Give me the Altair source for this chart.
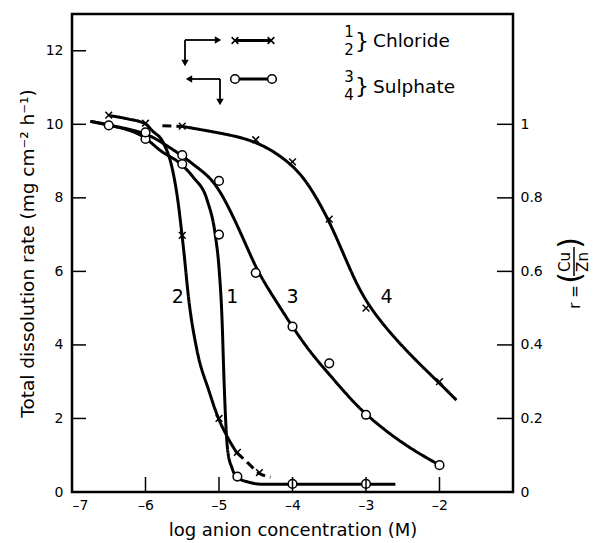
import altair as alt
import pandas as pd

FONT = "DejaVu Sans"

# ---------- curve paths (vertices) ----------
# curve 1 : chloride, dissolution rate (circles)
c1_x = [-6.75, -6.5, -6.0, -5.8, -5.52, -5.35, -5.16, -5.05, -5.0, -4.96, -4.93, -4.90, -4.88, -4.82, -4.77, -4.6, -4.4, -4.0, -3.0, -2.6]
c1_y = [10.08, 9.98, 9.62, 9.29, 8.92, 8.56, 7.93, 6.98, 6.1, 4.76, 2.95, 1.59, 1.1, 0.64, 0.42, 0.27, 0.21, 0.21, 0.21, 0.21]
# curve 2 : chloride, r (crosses) — solid part and dashed tail
c2_x = [-6.5, -6.25, -6.0, -5.91, -5.75, -5.64, -5.56, -5.5, -5.48, -5.41, -5.30, -5.14, -5.0, -4.91, -4.76]
c2_y = [10.24, 10.15, 10.01, 9.83, 9.47, 8.83, 7.93, 6.93, 6.57, 5.21, 3.86, 2.77, 1.97, 1.59, 1.07]
c2t_x = [-4.76, -4.6, -4.46, -4.3]
c2t_y = [1.07, 0.78, 0.52, 0.40]
# curve 3 : sulphate, dissolution rate (circles)
c3_x = [-6.75, -6.5, -6.0, -5.75, -5.5, -5.3, -5.05, -4.8, -4.62, -4.46, -4.23, -4.0, -3.76, -3.5, -3.25, -3.0, -2.5, -2.0]
c3_y = [10.08, 9.98, 9.78, 9.47, 9.15, 8.83, 8.45, 7.47, 6.66, 5.94, 5.21, 4.49, 3.8, 3.2, 2.62, 2.09, 1.3, 0.73]
# curve 4 : sulphate, r (crosses) — dashed head and solid part
c4h_x = [-5.77, -5.49]
c4h_y = [9.96, 9.94]
c4_x = [-5.49, -5.03, -4.48, -4.02, -3.78, -3.5, -3.25, -3.0, -2.49, -2.02, -1.77]
c4_y = [9.94, 9.78, 9.56, 8.95, 8.38, 7.39, 6.2, 5.1, 3.9, 3.0, 2.5]

# ---------- measured points ----------
circ_x = [-6.5, -6.0, -5.5, -5.0, -4.75, -4.0, -3.0,
          -6.0, -5.5, -5.0, -4.5, -4.0, -3.5, -3.0, -2.0]
circ_y = [9.97, 9.6, 8.92, 7.0, 0.42, 0.22, 0.22,
          9.78, 9.16, 8.46, 5.96, 4.5, 3.5, 2.1, 0.73]
cross_x = [-6.5, -6.0, -5.5, -5.0, -4.75, -4.45,
           -5.5, -4.5, -4.0, -3.5, -3.0, -2.0]
cross_y = [10.25, 10.03, 6.98, 2.0, 1.08, 0.53,
           9.95, 9.58, 8.98, 7.42, 5.0, 3.0]

# ---------- curve number labels ----------
lab_text = ["1", "2", "3", "4"]
lab_x = [-4.82, -5.56, -4.0, -2.72]
lab_y = [5.3, 5.3, 5.3, 5.3]

# ---------- axis ticks ----------
left_ticks = [2, 4, 6, 8, 10, 12]
bottom_ticks = [-6, -5, -4, -3, -2]
right_ticks = [0.2, 0.4, 0.6, 0.8, 1.0]
x_labels = [-7, -6, -5, -4, -3, -2]
y_labels = [0, 2, 4, 6, 8, 10, 12]
r_labels = [0, 0.2, 0.4, 0.6, 0.8, 1.0]

W, H = 441, 478


def seg_df(segs):
    rows = []
    for sid, dash, xs, ys in segs:
        for i, (a, b) in enumerate(zip(xs, ys)):
            rows.append({"seg": sid, "dash": dash, "i": i, "x": a, "y": b})
    return pd.DataFrame(rows)


steep_df = seg_df([("c1", "solid", c1_x, c1_y), ("c2", "solid", c2_x, c2_y),
                   ("c2t", "dashed", c2t_x, c2t_y)])
smooth_df = seg_df([("c3", "solid", c3_x, c3_y), ("c4h", "dashed", c4h_x, c4h_y),
                    ("c4", "solid", c4_x, c4_y)])

xscale = alt.Scale(domain=[-7, -1], nice=False, zero=False)
yscale = alt.Scale(domain=[0, 13], nice=False, zero=False)

x_axis = alt.Axis(values=x_labels, ticks=False, domain=False, grid=False,
                  labelFontSize=14, labelPadding=6, labelFont=FONT,
                  labelExpr="datum.value < 0 ? '–' + (-datum.value) : datum.label",
                  title="log anion concentration (M)", titleFontSize=18,
                  titleFont=FONT, titleFontWeight="normal", titlePadding=9,
                  titleColor="black", labelColor="black")
y_axis = alt.Axis(values=y_labels, ticks=False, domain=False, grid=False,
                  labelFontSize=14, labelPadding=9, labelFont=FONT,
                  title="Total dissolution rate (mg cm⁻² h⁻¹)", titleFontSize=18.5,
                  titleFont=FONT, titleFontWeight="normal", titlePadding=8,
                  titleColor="black", labelColor="black")

X = alt.X("x:Q", scale=xscale, axis=x_axis)
Y = alt.Y("y:Q", scale=yscale, axis=y_axis)
dash_enc = alt.StrokeDash("dash:N", scale=alt.Scale(domain=["solid", "dashed"], range=[[1, 0], [9, 5]]), legend=None)

lines_a = alt.Chart(steep_df).mark_line(interpolate="monotone", color="black", strokeWidth=3).encode(
    x=X, y=Y, detail="seg:N", order="i:Q", strokeDash=dash_enc)
lines_b = alt.Chart(smooth_df).mark_line(interpolate="basis", color="black", strokeWidth=3).encode(
    x=X, y=Y, detail="seg:N", order="i:Q", strokeDash=dash_enc)

circles = alt.Chart(pd.DataFrame({"x": circ_x, "y": circ_y})).mark_point(
    shape="circle", filled=True, fill="white", stroke="black", strokeWidth=1.5, size=75, opacity=1
).encode(x=X, y=Y)

XSHAPE = "M-1,-1L1,1M1,-1L-1,1"
crosses = alt.Chart(pd.DataFrame({"x": cross_x, "y": cross_y})).mark_point(
    shape=XSHAPE, filled=False, stroke="black", strokeWidth=1.5, size=45, opacity=1
).encode(x=X, y=Y)

labels = alt.Chart(pd.DataFrame({"t": lab_text, "x": lab_x, "y": lab_y})).mark_text(
    fontSize=19, font=FONT, color="black", align="center", baseline="middle"
).encode(x=X, y=Y, text="t:N")

lticks = alt.Chart(pd.DataFrame({"y": left_ticks})).mark_rule(color="black", strokeWidth=1.5).encode(
    y=Y, x=alt.value(0), x2=alt.value(14))
bticks = alt.Chart(pd.DataFrame({"x": bottom_ticks})).mark_rule(color="black", strokeWidth=1.5).encode(
    x=X, y=alt.value(H), y2=alt.value(H - 15))

dummy = pd.DataFrame({"k": [0]})


def hrule(x1, x2, y, sw=1.8):
    return alt.Chart(dummy).mark_rule(color="black", strokeWidth=sw).encode(
        x=alt.value(x1), x2=alt.value(x2), y=alt.value(y))


def vrule(x, y1, y2, sw=1.8):
    return alt.Chart(dummy).mark_rule(color="black", strokeWidth=sw).encode(
        x=alt.value(x), y=alt.value(y1), y2=alt.value(y2))


def tri(shape, x, y):
    return alt.Chart(dummy).mark_point(shape=shape, filled=True, color="black", size=55, opacity=1).encode(
        x=alt.value(x), y=alt.value(y))


def txt(t, x, y, size=15, align="center", angle=0):
    return alt.Chart(dummy).mark_text(text=t, fontSize=size, font=FONT, color="black",
                                      align=align, baseline="middle", angle=angle).encode(
        x=alt.value(x), y=alt.value(y))


def sym(shape, x, y):
    if shape == "circle":
        return alt.Chart(dummy).mark_point(shape="circle", filled=True, fill="white", stroke="black",
                                           strokeWidth=1.5, size=75, opacity=1).encode(x=alt.value(x), y=alt.value(y))
    return alt.Chart(dummy).mark_point(shape=XSHAPE, filled=False, stroke="black",
                                       strokeWidth=1.5, size=45, opacity=1).encode(x=alt.value(x), y=alt.value(y))


legend = [
    # arrow 1 (right and down)
    hrule(113, 144, 26), tri("triangle-right", 146, 26),
    vrule(113, 26, 47), tri("triangle-down", 113, 49),
    hrule(163, 199, 26.5, 3), sym("cross", 163, 26.5), sym("cross", 199, 26.5),
    # arrow 2 (left and down)
    hrule(119, 148, 65), tri("triangle-left", 117, 65),
    vrule(148, 65, 86), tri("triangle-down", 148, 88),
    hrule(163, 200, 65, 3), sym("circle", 163, 65), sym("circle", 200, 65),
    # text
    txt("1", 277, 18, 15), txt("2", 277, 36, 15), txt("}", 290, 27, 22),
    txt("Chloride", 301, 27, 18.5, "left"),
    txt("3", 277, 62.5, 15), txt("4", 277, 80.5, 15), txt("}", 290, 71.5, 22),
    txt("Sulphate", 301, 73, 18.5, "left"),
    # right axis title r = (Cu/Zn), rotated
    txt("r =", 503, 283, 15, "center", 270),
    txt("(", 499, 264, 30, "center", 270),
    txt("Cu", 493, 248, 15, "center", 270),
    vrule(502, 233, 262, 1.5),
    txt("Zn", 511, 248, 15, "center", 270),
    txt(")", 499, 229, 30, "center", 270),
]

left_group = alt.layer(lines_a, lines_b, circles, crosses, labels, lticks, bticks, *legend)

r_axis = alt.Axis(orient="right", values=r_labels, ticks=False, domain=False, grid=False,
                  labelFontSize=14, labelPadding=7, labelFont=FONT, labelColor="black",
                  labelExpr="datum.value == 0 ? '0' : datum.value == 1 ? '1' : format(datum.value, '.1f')",
                  title=None)
rticks = alt.Chart(pd.DataFrame({"r": right_ticks})).mark_rule(color="black", strokeWidth=1.5).encode(
    y=alt.Y("r:Q", scale=alt.Scale(domain=[0, 1.3], nice=False, zero=False), axis=r_axis),
    x=alt.value(W - 16), x2=alt.value(W))

chart = alt.layer(left_group, rticks).resolve_scale(y="independent").properties(
    width=W, height=H,
    padding={"left": 72, "top": 14, "right": 80, "bottom": 51},
    autosize=alt.AutoSizeParams(type="none"),
    background="white",
).configure_view(stroke="black", strokeWidth=2.5).configure_axis(grid=False)

chart.save("out.html", embed_options={"renderer": "svg", "actions": False})
